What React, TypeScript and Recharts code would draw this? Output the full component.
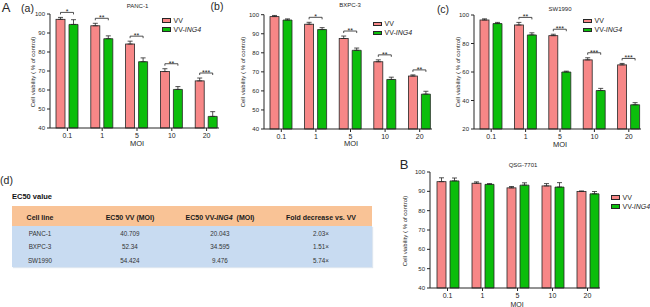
import React from 'react';
import { BarChart, Bar, XAxis, YAxis, ErrorBar } from 'recharts';

// MOI categories shared by every panel
const MOI = ['0.1', '1', '5', '10', '20'];

// (a) PANC-1
const PANC_VV = [97.2, 93.8, 84.2, 69.7, 64.8];
const PANC_VV_ERR = [1.0, 1.3, 1.5, 1.5, 1.5];
const PANC_ING4 = [94.5, 87.0, 74.9, 60.3, 46.1];
const PANC_ING4_ERR = [2.5, 1.5, 2.0, 1.5, 2.5];
const PANC_SIG = ['*', '**', '**', '**', '***'];

// (b) BXPC-3
const BXPC_VV = [99.0, 95.0, 87.5, 75.3, 67.8];
const BXPC_VV_ERR = [0.6, 1.0, 1.3, 1.0, 0.6];
const BXPC_ING4 = [97.2, 92.2, 81.3, 66.0, 58.3];
const BXPC_ING4_ERR = [0.6, 1.0, 1.2, 1.2, 1.5];
const BXPC_SIG = ['', '*', '**', '**', '**'];

// (c) SW1990
const SW_VV = [96.5, 93.0, 85.5, 68.5, 65.0];
const SW_VV_ERR = [0.8, 1.8, 1.0, 1.5, 1.0];
const SW_ING4 = [94.0, 86.0, 60.0, 47.0, 37.0];
const SW_ING4_ERR = [0.8, 1.5, 0.6, 1.5, 1.5];
const SW_SIG = ['', '**', '***', '***', '***'];

// B QSG-7701
const QSG_VV = [95.0, 94.2, 91.8, 92.8, 89.9];
const QSG_VV_ERR = [2.0, 0.7, 0.7, 1.2, 0.3];
const QSG_ING4 = [95.4, 93.6, 93.2, 92.2, 88.7];
const QSG_ING4_ERR = [1.5, 0.4, 1.2, 2.3, 1.2];
const QSG_SIG = ['', '', '', '', ''];

const TICKS_40 = [40, 50, 60, 70, 80, 90, 100];
const TICKS_20 = [20, 40, 60, 80, 100];

// (d) EC50 table
const EC50_HEAD = ['Cell line', 'EC50 VV (MOI)', 'EC50 VV-ING4 (MOI)', 'Fold decrease vs. VV'];
const EC50_LINES = ['PANC-1', 'BXPC-3', 'SW1990'];
const EC50_VV = ['40.709', '52.34', '54.424'];
const EC50_ING4 = ['20.043', '34.595', '9.476'];
const EC50_FOLD = ['2.03×', '1.51×', '5.74×'];

const FONT = '"Liberation Sans", Arial, sans-serif';
const INK = '#262626';
const PINK = '#F78787';
const GREEN = '#0BBE0B';
const BAR_W = 9;
const BAR_GAP = 4;

type Box = { x: number; y: number; w: number; h: number };
type Plot = { l: number; r: number; t: number; b: number };

interface PanelProps {
  box: Box;
  plot: Plot;
  vv: number[];
  vvErr: number[];
  ing: number[];
  ingErr: number[];
  sig: string[];
  domain: [number, number];
  ticks: number[];
}

// pink bar + significance bracket, placed from the bar's own geometry
const makeVvShape = (p: PanelProps) => (props: any) => {
  const { x, y, width, height, index } = props;
  const dMin = p.domain[0];
  const unit = height / (p.vv[index] - dMin);
  const yOf = (v: number) => y + height - (v - dMin) * unit;
  const s = p.sig[index];
  let bracket = null;
  if (s) {
    const top = Math.min(yOf(p.vv[index] + p.vvErr[index]), yOf(p.ing[index] + p.ingErr[index]));
    const yB = top - 5;
    const x1 = x + width / 2;
    const x2 = x + width + BAR_GAP + width / 2;
    bracket = (
      <g>
        <path d={`M${x1},${yB + 2}L${x1},${yB}L${x2},${yB}L${x2},${yB + 2}`} fill="none" stroke={INK} strokeWidth={0.8} />
        <text x={(x1 + x2) / 2} y={yB + 2} textAnchor="middle" fontSize={7} fill={INK} fontFamily={FONT}>{s}</text>
      </g>
    );
  }
  return (
    <g>
      <rect x={x} y={y} width={width} height={height} fill={PINK} stroke={INK} strokeWidth={0.8} />
      {bracket}
    </g>
  );
};

const Panel = (p: PanelProps) => {
  const rows = MOI.map((m, i) => ({
    moi: m,
    vv: p.vv[i],
    ing: p.ing[i],
    vvErr: [0, p.vvErr[i]],
    ingErr: [0, p.ingErr[i]]
  }));
  const margin = {
    top: p.plot.t - p.box.y,
    right: p.box.x + p.box.w - p.plot.r,
    left: p.plot.l - p.box.x - 30,
    bottom: p.box.y + p.box.h - p.plot.b - 20
  };
  return (
    <div style={{ position: 'absolute', left: p.box.x, top: p.box.y, width: p.box.w, height: p.box.h }}>
      <BarChart width={p.box.w} height={p.box.h} data={rows} margin={margin} barGap={BAR_GAP} barSize={BAR_W}>
        <XAxis
          dataKey="moi"
          height={20}
          interval={0}
          padding={{ left: 0, right: -5 }}
          tickSize={3}
          tickMargin={2}
          axisLine={{ stroke: INK }}
          tickLine={{ stroke: INK }}
          tick={{ fontSize: 7, fill: INK, fontFamily: FONT }}
        />
        <YAxis
          width={30}
          domain={p.domain}
          ticks={p.ticks}
          interval={0}
          tickSize={3}
          tickMargin={2}
          axisLine={{ stroke: INK }}
          tickLine={{ stroke: INK }}
          tick={{ fontSize: 6, fill: INK, fontFamily: FONT }}
        />
        <Bar dataKey="vv" shape={makeVvShape(p)} isAnimationActive={false}>
          <ErrorBar dataKey="vvErr" direction="y" width={2.5} stroke={INK} strokeWidth={0.8} isAnimationActive={false} />
        </Bar>
        <Bar dataKey="ing" fill={GREEN} stroke={INK} strokeWidth={0.8} isAnimationActive={false}>
          <ErrorBar dataKey="ingErr" direction="y" width={2.5} stroke={INK} strokeWidth={0.8} isAnimationActive={false} />
        </Bar>
      </BarChart>
    </div>
  );
};

const Txt = ({ x, y, size, children, bold, rotate, color }: any) => (
  <div
    style={{
      position: 'absolute',
      left: x,
      top: y,
      transform: `translate(-50%, -50%)${rotate ? ' rotate(-90deg)' : ''}`,
      whiteSpace: 'nowrap',
      fontSize: size,
      lineHeight: 1,
      fontWeight: bold ? 'bold' : 'normal',
      color: color || INK
    }}
  >
    {children}
  </div>
);

const LegendBox = ({ x, y }: { x: number; y: number }) => (
  <>
    <div style={{ position: 'absolute', left: x, top: y, width: 9, height: 4.5, background: PINK, border: `0.8px solid ${INK}`, boxSizing: 'border-box' }} />
    <div style={{ position: 'absolute', left: x + 11.5, top: y - 2.5, fontSize: 7, lineHeight: '9px', color: INK, whiteSpace: 'nowrap' }}>VV</div>
    <div style={{ position: 'absolute', left: x, top: y + 9, width: 9, height: 4.5, background: GREEN, border: `0.8px solid ${INK}`, boxSizing: 'border-box' }} />
    <div style={{ position: 'absolute', left: x + 11.5, top: y + 6.5, fontSize: 7, lineHeight: '9px', color: INK, whiteSpace: 'nowrap' }}>
      VV-<i>ING4</i>
    </div>
  </>
);

const YLABEL = 'Cell viability ( % of control)';
const COL_X = [40, 130, 220, 321];
const ROW_Y = [233.5, 247, 260.5];

export default function App() {
  return (
    <div style={{ position: 'absolute', left: 0, top: 0, width: 650, height: 307, overflow: 'hidden', background: '#fff', fontFamily: FONT }}>
      <Panel
        box={{ x: 0, y: 0, w: 230, h: 150 }}
        plot={{ l: 50, r: 219, t: 14, b: 128 }}
        vv={PANC_VV} vvErr={PANC_VV_ERR} ing={PANC_ING4} ingErr={PANC_ING4_ERR} sig={PANC_SIG}
        domain={[40, 100]} ticks={TICKS_40}
      />
      <Panel
        box={{ x: 212, y: 0, w: 225, h: 150 }}
        plot={{ l: 264, r: 432, t: 14.7, b: 129 }}
        vv={BXPC_VV} vvErr={BXPC_VV_ERR} ing={BXPC_ING4} ingErr={BXPC_ING4_ERR} sig={BXPC_SIG}
        domain={[40, 100]} ticks={TICKS_40}
      />
      <Panel
        box={{ x: 430, y: 0, w: 220, h: 150 }}
        plot={{ l: 474, r: 641, t: 15, b: 129 }}
        vv={SW_VV} vvErr={SW_VV_ERR} ing={SW_ING4} ingErr={SW_ING4_ERR} sig={SW_SIG}
        domain={[20, 100]} ticks={TICKS_20}
      />
      <Panel
        box={{ x: 395, y: 160, w: 255, h: 150 }}
        plot={{ l: 430, r: 600, t: 172, b: 288 }}
        vv={QSG_VV} vvErr={QSG_VV_ERR} ing={QSG_ING4} ingErr={QSG_ING4_ERR} sig={QSG_SIG}
        domain={[40, 100]} ticks={TICKS_40}
      />

      {/* panel letters */}
      <Txt x={6} y={7} size={13}>A</Txt>
      <Txt x={27.5} y={8} size={10.5}>(a)</Txt>
      <Txt x={217} y={6} size={10.5}>(b)</Txt>
      <Txt x={443} y={9} size={10.5}>(c)</Txt>
      <Txt x={404} y={164} size={13}>B</Txt>
      <Txt x={6.5} y={180} size={10.5}>(d)</Txt>

      {/* titles */}
      <Txt x={137.5} y={6} size={6}>PANC-1</Txt>
      <Txt x={350} y={5} size={6}>BXPC-3</Txt>
      <Txt x={560} y={8.5} size={6}>SW1990</Txt>
      <Txt x={523} y={165} size={6}>QSG-7701</Txt>

      {/* axis titles */}
      <Txt x={33} y={72} size={6} rotate>{YLABEL}</Txt>
      <Txt x={243} y={72} size={6} rotate>{YLABEL}</Txt>
      <Txt x={458} y={72} size={6} rotate>{YLABEL}</Txt>
      <Txt x={405} y={231} size={6} rotate>{YLABEL}</Txt>
      <Txt x={137} y={144} size={7.5}>MOI</Txt>
      <Txt x={351} y={144} size={7.5}>MOI</Txt>
      <Txt x={560} y={145} size={7.5}>MOI</Txt>
      <Txt x={517} y={303.5} size={7}>MOI</Txt>

      {/* legends */}
      <LegendBox x={162} y={18.3} />
      <LegendBox x={373} y={21.5} />
      <LegendBox x={583} y={18.5} />
      <LegendBox x={611} y={195} />

      {/* (d) EC50 table */}
      <div style={{ position: 'absolute', left: 12, top: 192, fontSize: 7.5, fontWeight: 'bold', color: '#111' }}>EC50 value</div>
      <div style={{ position: 'absolute', left: 12, top: 206, width: 360, height: 20, background: '#F9C396' }} />
      <div style={{ position: 'absolute', left: 12, top: 226, width: 360, height: 41, background: '#C8DBF1', boxShadow: '1px 1px 1px #dde6f0' }} />
      {EC50_HEAD.map((h, i) => (
        <Txt key={h} x={COL_X[i]} y={216.5} size={7} bold color="#1a1a1a">
          {i === 2 ? <>EC50 VV-<i>ING4</i>&nbsp; (MOI)</> : h}
        </Txt>
      ))}
      {EC50_LINES.map((c, r) => (
        <React.Fragment key={c}>
          <Txt x={COL_X[0]} y={ROW_Y[r]} size={6.3} color="#333">{c}</Txt>
          <Txt x={COL_X[1]} y={ROW_Y[r]} size={6.3} color="#333">{EC50_VV[r]}</Txt>
          <Txt x={COL_X[2]} y={ROW_Y[r]} size={6.3} color="#333">{EC50_ING4[r]}</Txt>
          <Txt x={COL_X[3]} y={ROW_Y[r]} size={6.3} color="#333">{EC50_FOLD[r]}</Txt>
        </React.Fragment>
      ))}
    </div>
  );
}
